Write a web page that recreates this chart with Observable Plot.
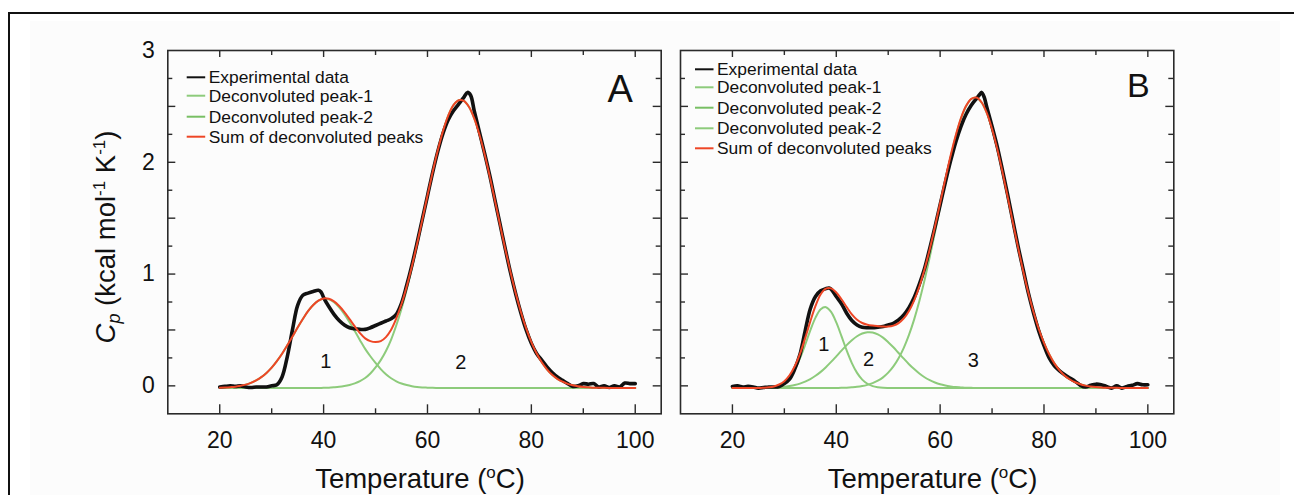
<!DOCTYPE html>
<html>
<head>
<meta charset="utf-8">
<script src="https://cdn.jsdelivr.net/npm/d3@7"></script>
<script src="https://cdn.jsdelivr.net/npm/@observablehq/plot@0.6"></script>
<style>
  html, body { margin: 0; padding: 0; background: #ffffff; }
  #wrap { position: relative; width: 1294px; height: 495px; overflow: hidden;
          font-family: "Liberation Sans", Arial, sans-serif; color: #111; }
  #bg { position: absolute; left: 30px; top: 21px; width: 1250px; height: 480px; background: #fcfcfc; }
  #border { position: absolute; left: 8px; top: 12px; width: 1300px; height: 500px;
            border-top: 2px solid #111; border-left: 2px solid #111; }
  .panel { position: absolute; top: 0; }
  #overlay { position: absolute; left: 0; top: 0; }
</style>
</head>
<body>
<div id="wrap">
  <div id="bg"></div>
  <div id="border"></div>
  <div id="panelA" class="panel" style="left:0px;width:680px"></div>
  <div id="panelB" class="panel" style="left:640px;width:654px"></div>
  <svg id="overlay" width="1294" height="495"></svg>
</div>
<script>
// ---------------- data ----------------
const tempFit = [20,21,22,23,24,25,26,27,28,29,30,31,32,33,34,35,36,37,38,39,40,41,42,43,44,45,46,47,48,49,50,51,52,53,54,55,56,57,58,59,60,61,62,63,64,65,66,67,68,69,70,71,72,73,74,75,76,77,78,79,80,81,82,83,84,85,86,87,88,89,90,91,92,93,94,95,96,97,98,99,100];

// Panel A
const tempExpA = [20,21,22,23,24,25,26,27,28,29,30,31,32,33,34,35,36,37,38,39,39.5,40,41,42,43,44,45,46,47,48,49,50,51,52,53,54,55,56,57,58,59,60,61,62,63,64,65,66,67,67.7,68.3,69,70,71,72,73,74,75,76,77,78,79,80,81,82,83,84,85,86,87,88,89,90,91,92,93,94,95,96,97,98,99,100];
const cpExpA = [-0.01,-0.005,0.0,-0.005,0.0,-0.01,-0.015,-0.01,-0.01,-0.01,0.0,0.01,0.08,0.26,0.50,0.72,0.81,0.83,0.845,0.855,0.84,0.79,0.71,0.64,0.585,0.545,0.52,0.51,0.505,0.505,0.52,0.54,0.56,0.58,0.60,0.64,0.74,0.90,1.08,1.28,1.49,1.70,1.91,2.10,2.26,2.38,2.46,2.52,2.58,2.625,2.60,2.46,2.27,2.08,1.88,1.66,1.44,1.22,1.01,0.82,0.65,0.50,0.38,0.29,0.23,0.17,0.12,0.08,0.05,0.02,-0.005,0.0,0.02,0.015,0.02,-0.01,0.0,-0.015,0.0,-0.01,0.025,0.02,0.02];
const peak1A = [-0.017,-0.015,-0.012,-0.008,0.000,0.011,0.027,0.049,0.078,0.116,
  0.163,0.221,0.287,0.362,0.441,0.522,0.598,0.668,0.723,0.762,
  0.779,0.775,0.749,0.703,0.642,0.569,0.490,0.409,0.331,0.265,
  0.205,0.150,0.104,0.068,0.041,0.021,0.007,-0.003,-0.010,-0.014,
  -0.016,-0.018,-0.019,-0.020,-0.020,-0.020,-0.020,-0.020,-0.020,-0.020,
  -0.020,-0.020,-0.020,-0.020,-0.020,-0.020,-0.020,-0.020,-0.020,-0.020,
  -0.020,-0.020,-0.020,-0.020,-0.020,-0.020,-0.020,-0.020,-0.020,-0.020,
  -0.020,-0.020,-0.020,-0.020,-0.020,-0.020,-0.020,-0.020,-0.020,-0.020,
  -0.020];
const peak2A = [-0.020,-0.020,-0.020,-0.020,-0.020,-0.020,-0.020,-0.020,-0.020,-0.020,
  -0.020,-0.020,-0.020,-0.020,-0.020,-0.020,-0.020,-0.020,-0.020,-0.020,
  -0.017,-0.016,-0.013,-0.009,-0.002,0.008,0.022,0.042,0.070,0.110,
  0.165,0.230,0.312,0.414,0.542,0.691,0.862,1.053,1.261,1.479,
  1.699,1.912,2.109,2.281,2.418,2.511,2.555,2.550,2.495,2.393,
  2.248,2.072,1.871,1.655,1.435,1.218,1.015,0.826,0.659,0.514,
  0.392,0.292,0.211,0.148,0.099,0.063,0.037,0.018,0.005,-0.004,
  -0.010,-0.013,-0.016,-0.017,-0.018,-0.019,-0.020,-0.020,-0.020,-0.020,
  -0.020];
const sumA = [-0.017,-0.015,-0.012,-0.008,0.000,0.011,0.027,0.049,0.078,0.116,
  0.163,0.221,0.287,0.362,0.441,0.522,0.598,0.668,0.723,0.762,
  0.782,0.779,0.756,0.714,0.660,0.597,0.532,0.471,0.425,0.400,
  0.392,0.400,0.436,0.502,0.603,0.732,0.889,1.070,1.271,1.485,
  1.703,1.914,2.110,2.281,2.418,2.511,2.555,2.550,2.495,2.393,
  2.248,2.072,1.871,1.655,1.435,1.218,1.015,0.826,0.659,0.514,
  0.392,0.292,0.211,0.148,0.099,0.063,0.037,0.018,0.005,-0.004,
  -0.010,-0.013,-0.016,-0.017,-0.018,-0.019,-0.020,-0.020,-0.020,-0.020,
  -0.020];

// Panel B
const tempExpB = [20,21,22,23,24,25,26,27,28,29,30,31,32,33,34,35,36,37,38,38.6,39,40,41,42,43,44,45,46,47,48,49,50,51,52,53,54,55,56,57,58,59,60,61,62,63,64,65,66,67,67.5,68,68.5,69,70,71,72,73,74,75,76,77,78,79,80,81,82,83,84,85,86,87,88,89,90,91,92,93,94,95,96,97,98,99,100];
const cpExpB = [-0.005,0.0,-0.01,-0.005,-0.01,-0.02,-0.015,-0.01,-0.01,-0.005,0.02,0.06,0.15,0.28,0.49,0.69,0.80,0.85,0.87,0.875,0.865,0.80,0.735,0.65,0.585,0.545,0.525,0.52,0.52,0.525,0.53,0.545,0.56,0.59,0.635,0.70,0.79,0.91,1.05,1.23,1.42,1.62,1.82,2.01,2.18,2.32,2.43,2.51,2.57,2.60,2.625,2.58,2.49,2.32,2.14,1.93,1.71,1.48,1.25,1.04,0.83,0.65,0.49,0.36,0.25,0.18,0.135,0.10,0.07,0.04,0.005,-0.01,0.005,0.015,0.01,-0.005,-0.02,0.0,-0.02,-0.005,0.005,0.02,0.01,0.01];
const peak1B = [-0.020,-0.020,-0.020,-0.020,-0.020,-0.020,-0.018,-0.015,-0.009,0.005,
  0.031,0.077,0.148,0.246,0.367,0.496,0.610,0.685,0.704,0.661,
  0.567,0.445,0.317,0.204,0.116,0.056,0.019,-0.002,-0.012,-0.017,
  -0.019,-0.020,-0.020,-0.020,-0.020,-0.020,-0.020,-0.020,-0.020,-0.020,
  -0.020,-0.020,-0.020,-0.020,-0.020,-0.020,-0.020,-0.020,-0.020,-0.020,
  -0.020,-0.020,-0.020,-0.020,-0.020,-0.020,-0.020,-0.020,-0.020,-0.020,
  -0.020,-0.020,-0.020,-0.020,-0.020,-0.020,-0.020,-0.020,-0.020,-0.020,
  -0.020,-0.020,-0.020,-0.020,-0.020,-0.020,-0.020,-0.020,-0.020,-0.020,
  -0.020];
const peak2B = [-0.020,-0.020,-0.020,-0.020,-0.020,-0.020,-0.019,-0.018,-0.016,-0.013,
  -0.009,-0.002,0.007,0.020,0.038,0.061,0.090,0.125,0.167,0.214,
  0.264,0.315,0.364,0.408,0.444,0.468,0.479,0.477,0.460,0.431,
  0.391,0.345,0.294,0.243,0.194,0.150,0.110,0.077,0.051,0.030,
  0.014,0.003,-0.005,-0.011,-0.014,-0.017,-0.018,-0.019,-0.019,-0.020,
  -0.020,-0.020,-0.020,-0.020,-0.020,-0.020,-0.020,-0.020,-0.020,-0.020,
  -0.020,-0.020,-0.020,-0.020,-0.020,-0.020,-0.020,-0.020,-0.020,-0.020,
  -0.020,-0.020,-0.020,-0.020,-0.020,-0.020,-0.020,-0.020,-0.020,-0.020,
  -0.020];
const peak3B = [-0.020,-0.020,-0.020,-0.020,-0.020,-0.020,-0.020,-0.020,-0.020,-0.020,
  -0.020,-0.020,-0.020,-0.020,-0.020,-0.020,-0.020,-0.020,-0.020,-0.020,
  -0.019,-0.018,-0.016,-0.013,-0.009,-0.002,0.009,0.024,0.046,0.076,
  0.118,0.174,0.247,0.340,0.456,0.595,0.759,0.946,1.152,1.373,
  1.601,1.827,2.041,2.231,2.388,2.502,2.566,2.578,2.534,2.439,
  2.298,2.120,1.914,1.692,1.464,1.239,1.026,0.831,0.658,0.509,
  0.384,0.282,0.201,0.139,0.091,0.057,0.032,0.014,0.002,-0.006,
  -0.011,-0.014,-0.016,-0.017,-0.018,-0.019,-0.020,-0.020,-0.020,-0.020,
  -0.020];
const sumB = [-0.020,-0.020,-0.020,-0.020,-0.020,-0.020,-0.017,-0.013,-0.005,0.012,
  0.042,0.095,0.175,0.286,0.425,0.577,0.715,0.820,0.870,0.872,
  0.835,0.775,0.705,0.639,0.591,0.562,0.547,0.539,0.534,0.530,
  0.530,0.539,0.561,0.603,0.670,0.765,0.889,1.043,1.223,1.423,
  1.635,1.850,2.056,2.240,2.394,2.505,2.568,2.579,2.535,2.440,
  2.298,2.120,1.914,1.692,1.464,1.239,1.026,0.831,0.658,0.509,
  0.384,0.282,0.201,0.139,0.091,0.057,0.032,0.014,0.002,-0.006,
  -0.011,-0.014,-0.016,-0.017,-0.018,-0.019,-0.020,-0.020,-0.020,-0.020,
  -0.020];

// ticks and labels
const xTickLabels = [20, 40, 60, 80, 100];
const xMinorTicks = [30, 50, 70, 90];
const yTickLabels = [0, 1, 2, 3];
const yMajorTicks = [0, 0.5, 1, 1.5, 2, 2.5];
const yMinorTicks = [0.25, 0.75, 1.25, 1.75, 2.25, 2.75];
const peakLabelsA = [{n: "1", t: 40.4, cp: 0.214}, {n: "2", t: 66.4, cp: 0.21}];
const peakLabelsB = [{n: "1", t: 37.6, cp: 0.372}, {n: "2", t: 46.2, cp: 0.235}, {n: "3", t: 66.4, cp: 0.23}];
const legendA = ["Experimental data", "Deconvoluted peak-1", "Deconvoluted peak-2", "Sum of deconvoluted peaks"];
const legendB = ["Experimental data", "Deconvoluted peak-1", "Deconvoluted peak-2", "Deconvoluted peak-2", "Sum of deconvoluted peaks"];

// ---------------- styles ----------------
const BLACK = "#111111", GREEN = "#8dcb7b", GREEN2 = "#78bf64", RED = "#ee4626", AXIS = "#2a2a2a";
const FONT = "'Liberation Sans', Arial, Helvetica, sans-serif";

function rows(temps, cols) {
  return temps.map((t, i) => {
    const r = {t};
    for (const k in cols) r[k] = cols[k][i];
    return r;
  });
}

function panel({width, marginLeft, marginRight, exp, fit, fitKeys, labels, letter, letterDx, letterDy, letterSize, showY}) {
  const marginTop = 50, height = 495, marginBottom = 495 - 413.3;
  const W = width - marginLeft - marginRight;
  const H = height - marginTop - marginBottom;
  const tickStyle = {stroke: AXIS, strokeWidth: 1.4};
  const marks = [
    Plot.tickY(yMajorTicks, {y: d => d, insetRight: W - 8, ...tickStyle}),
    Plot.tickY(yMinorTicks, {y: d => d, insetRight: W - 5, ...tickStyle}),
    Plot.tickY(yMajorTicks, {y: d => d, insetLeft: W - 8, ...tickStyle}),
    Plot.tickY(yMinorTicks, {y: d => d, insetLeft: W - 5, ...tickStyle}),
    Plot.tickX(xTickLabels, {x: d => d, insetTop: H - 9, ...tickStyle}),
    Plot.tickX(xMinorTicks, {x: d => d, insetTop: H - 5, ...tickStyle}),
    Plot.tickX(xTickLabels, {x: d => d, insetBottom: H - 7, ...tickStyle}),
    Plot.tickX(xMinorTicks, {x: d => d, insetBottom: H - 5, ...tickStyle}),
    Plot.axisX(xTickLabels, {tickSize: 0, tickPadding: 18, fontSize: 23, label: null, tickFormat: d => `${d}`}),
  ];
  if (showY) marks.push(Plot.axisY(yTickLabels, {tickSize: 0, tickPadding: 13, fontSize: 23, label: null, tickFormat: d => `${d}`}));
  for (const k of fitKeys) {
    marks.push(Plot.line(fit, {x: "t", y: k, stroke: GREEN, strokeWidth: 2, curve: "catmull-rom"}));
  }
  marks.push(
    Plot.line(exp, {x: "t", y: "cp", stroke: BLACK, strokeWidth: 3.6, curve: "catmull-rom", strokeLinejoin: "round"}),
    Plot.line(fit, {x: "t", y: "sum", stroke: RED, strokeWidth: 2, curve: "catmull-rom"}),
    Plot.text(labels, {x: "t", y: "cp", text: "n", fontSize: 20, fill: BLACK, lineAnchor: "middle"}),
    Plot.text([letter], {text: d => d, frameAnchor: "top-right", dx: letterDx, dy: letterDy, fontSize: letterSize,
                         textAnchor: "middle", lineAnchor: "middle", fill: BLACK}),
    Plot.frame({stroke: AXIS, strokeWidth: 1.6})
  );
  return Plot.plot({
    width, height, marginLeft, marginRight, marginTop, marginBottom,
    x: {domain: [10, 105], axis: null},
    y: {domain: [-0.25, 3], axis: null},
    style: {background: "transparent", overflow: "visible", fontFamily: FONT, color: BLACK},
    marks
  });
}

const expA = rows(tempExpA, {cp: cpExpA});
const fitA = rows(tempFit, {p1: peak1A, p2: peak2A, sum: sumA});
const expB = rows(tempExpB, {cp: cpExpB});
const fitB = rows(tempFit, {p1: peak1B, p2: peak2B, p3: peak3B, sum: sumB});

document.getElementById("panelA").append(panel({
  width: 680, marginLeft: 167.3, marginRight: 19.3, exp: expA, fit: fitA, fitKeys: ["p1", "p2"],
  labels: peakLabelsA, letter: "A", letterDx: -41, letterDy: 39, letterSize: 38, showY: true
}));
document.getElementById("panelB").append(panel({
  width: 654, marginLeft: 40, marginRight: 120.7, exp: expB, fit: fitB, fitKeys: ["p1", "p2", "p3"],
  labels: peakLabelsB, letter: "B", letterDx: -35.4, letterDy: 36, letterSize: 34, showY: false
}));

// ---------------- overlay: legends and axis titles ----------------
const ov = d3.select("#overlay").style("font-family", FONT);
function legend(items, colors, x0, ys) {
  const g = ov.append("g");
  items.forEach((label, i) => {
    g.append("line").attr("x1", x0).attr("x2", x0 + 18.5).attr("y1", ys[i]).attr("y2", ys[i])
      .attr("stroke", colors[i]).attr("stroke-width", 2);
    g.append("text").attr("x", x0 + 22).attr("y", ys[i] + 6).attr("font-size", 17.4).attr("fill", BLACK).text(label);
  });
}
legend(legendA, [BLACK, GREEN, GREEN2, RED], 186.7, [77.3, 95.7, 116.7, 136.7]);
legend(legendB, [BLACK, GREEN, GREEN2, GREEN, RED], 695, [69.3, 87.3, 107.7, 128.3, 148.3]);

function xTitle(cx) {
  const t = ov.append("text").attr("x", cx).attr("y", 488).attr("text-anchor", "middle")
    .attr("font-size", 27.5).attr("fill", BLACK);
  t.append("tspan").text("Temperature (");
  t.append("tspan").attr("dy", -10).attr("font-size", 17).text("o");
  t.append("tspan").attr("dy", 10).text("C)");
}
xTitle(420);
xTitle(932.5);

const yt = ov.append("text").attr("transform", "translate(115,237) rotate(-90)").attr("text-anchor", "middle")
  .attr("font-size", 27.5).attr("fill", BLACK);
yt.append("tspan").attr("font-style", "italic").text("C");
yt.append("tspan").attr("font-style", "italic").attr("font-size", 18).attr("dy", 5).text("p");
yt.append("tspan").attr("dy", -5).text(" (kcal mol");
yt.append("tspan").attr("font-size", 17).attr("dy", -10).text("-1");
yt.append("tspan").attr("dy", 10).text(" K");
yt.append("tspan").attr("font-size", 17).attr("dy", -10).text("-1");
yt.append("tspan").attr("dy", 10).text(")");
</script>
</body>
</html>
